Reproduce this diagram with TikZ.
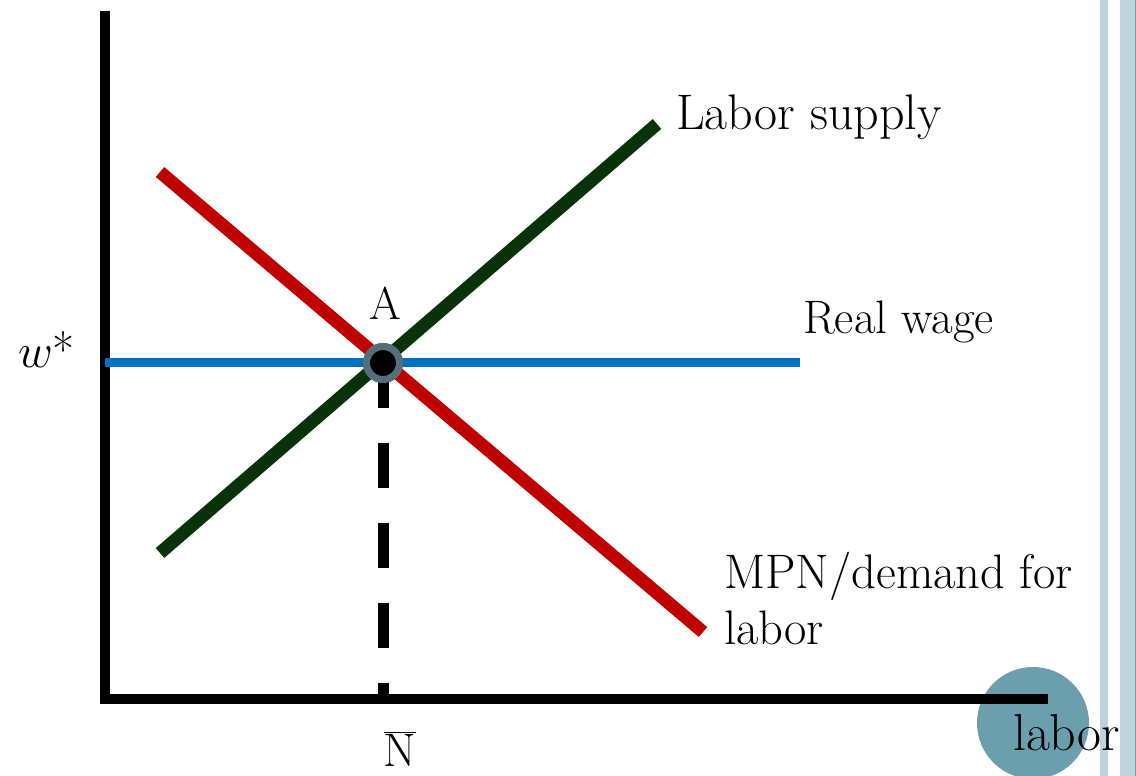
\RequirePackage{fix-cm}
\documentclass[tikz,border=0pt]{standalone}
\usepackage{fontspec}
\definecolor{redl}{RGB}{192,0,0}
\definecolor{greenl}{RGB}{8,50,8}
\definecolor{bluel}{RGB}{0,112,192}
\definecolor{ringc}{RGB}{84,110,122}
\definecolor{tealc}{RGB}{107,159,174}
\definecolor{stripec}{RGB}{192,211,219}
\begin{document}
\begin{tikzpicture}[x=1pt,y=-1pt,
  axisline/.style={black, line width=10pt, line join=miter, line cap=butt},
  curve/.style={line width=13pt, line cap=butt},
  dashline/.style={black, line width=11pt, dash pattern=on 45pt off 35pt},
  lbl/.style={inner sep=0pt, outer sep=0pt, font=\fontsize{48}{56}\selectfont},
  pointA/.style={circle, fill=black, draw=ringc, line width=7pt, minimum size=33pt, inner sep=0pt}
]
\useasboundingbox (0,0) rectangle (1136,776);
% decorative stripes and blob
\fill[stripec] (1100,0) rectangle (1108,776);
\fill[stripec] (1120,0) rectangle (1136,776);
\draw[tealc, line width=1pt] (1135.5,0) -- (1135.5,776);
\node[circle, fill=tealc, minimum size=112pt, inner sep=0pt] (blob) at (1033,723) {};
% axes
\coordinate (ytop) at (104.5,11);
\coordinate (xend) at (1048,698.5);
\draw[axisline] (ytop) |- (xend);
% real wage
\coordinate (wl) at (105,362.5);
\coordinate (wr) at (800,362.5);
\draw[bluel, line width=9pt] (wl) -- (wr);
% demand (red) and supply (green)
\coordinate (d1) at (160,172);
\coordinate (d2) at (703,632);
\coordinate (s1) at (160,553);
\coordinate (s2) at (657,124);
\draw[curve, redl] (d1) -- (d2);
\draw[curve, greenl] (s1) -- (s2);
% equilibrium
\node[pointA] (A) at (383,363) {};
\draw[dashline] (A.center) -- (A.center |- xend);
\node[pointA] (A2) at (A.center) {};
% labels
\node[lbl, anchor=base west, font=\fontsize{50}{56}\selectfont] (ls) at (676,129) {Labor supply};
\node[lbl, anchor=base west, font=\fontsize{47}{56}\selectfont] (rw) at (803,333) {Real wage};
\node[lbl, anchor=north west, align=left, font=\fontsize{48.5}{56}\selectfont] (mpn) at (724,552) {MPN/demand for\\labor};
\node[lbl, anchor=base, font=\fontsize{46}{56}\selectfont] (Alab) at (385,319) {A};
\node[lbl, anchor=base west] (wstar) at (18,367) {$w$*};
\node[lbl, anchor=base, font=\fontsize{47}{56}\selectfont] (Nbar) at (400,766) {$\overline{\mathrm{N}}$};
\node[lbl, anchor=base west, font=\fontsize{52}{56}\selectfont] (lab) at (1013,750) {labor};
\end{tikzpicture}
\end{document}
